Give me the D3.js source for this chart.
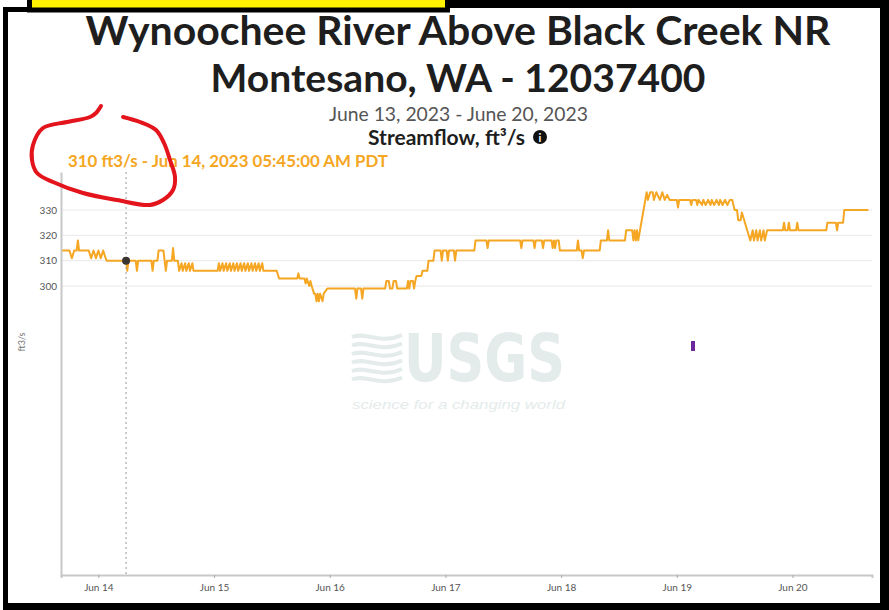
<!DOCTYPE html>
<html>
<head>
<meta charset="utf-8">
<script src="https://cdn.jsdelivr.net/npm/d3@7"></script>
<style>
  body { margin: 0; background: #fff; }
  svg { display: block; }
</style>
</head>
<body>
<svg id="chart" width="889" height="610"></svg>
<script>
// ---- chart text ----
const siteTitle = ["Wynoochee River Above Black Creek NR", "Montesano, WA - 12037400"];
const dateRange = "June 13, 2023 - June 20, 2023";
const parameterName = "Streamflow, ft\u00b3/s";
const yAxisLabel = "ft3/s";

// ---- axes ----
const axisStart = "13 16:15";          // June 2023, day + time
const axisEnd = "20 16:30";
const yDomain = [186, 345];
const yTickValues = [300, 310, 320, 330];
const xTickTimes = ["14 00:00", "15 00:00", "16 00:00", "17 00:00", "18 00:00", "19 00:00", "20 00:00"];
const xTickLabels = ["Jun 14", "Jun 15", "Jun 16", "Jun 17", "Jun 18", "Jun 19", "Jun 20"];

// ---- 15-minute discharge readings, ft3/s (June 2023, day + time) ----
const flowTimes = [
  "13 16:30","13 18:00","13 18:30","13 19:00","13 19:30","13 19:45","13 20:00","13 22:00","13 22:30","13 23:00","13 23:30",
  "14 00:00","14 00:30","14 01:00","14 01:30","14 01:45","14 05:45","14 06:00","14 06:15","14 07:45","14 08:00","14 08:15",
  "14 11:00","14 11:15","14 11:30","14 12:15","14 12:30","14 13:30","14 13:45","14 14:00","14 14:15","14 15:15","14 15:30",
  "14 15:45","14 16:30","14 16:45","14 17:15","14 17:30","14 18:00","14 18:15","14 18:45","14 19:00","14 19:30","14 19:45",
  "15 00:45","15 01:00","15 01:15","15 01:45","15 02:00","15 02:30","15 02:45","15 03:15","15 03:30","15 04:00","15 04:15",
  "15 04:45","15 05:00","15 05:30","15 05:45","15 06:15","15 06:30","15 07:00","15 07:15","15 07:45","15 08:00","15 08:30",
  "15 08:45","15 09:15","15 09:30","15 10:00","15 10:15","15 13:00","15 13:30","15 17:15","15 17:30","15 17:45","15 18:45",
  "15 19:00","15 19:15","15 19:45","15 20:00","15 20:15","15 20:45","15 21:00","15 21:15","15 21:30","15 21:45","15 22:00",
  "15 22:30","15 22:45","15 23:30",
  "16 05:15","16 05:30","16 05:45","16 06:30","16 06:45","16 07:00","16 11:30","16 11:45","16 12:15","16 12:30","16 13:00",
  "16 13:15","16 13:45","16 14:00","16 16:00","16 16:15","16 16:30","16 16:45","16 17:15","16 17:30","16 17:45","16 18:00",
  "16 19:00","16 19:15","16 20:15","16 20:30","16 21:30","16 21:45","16 23:00","16 23:15","16 23:30",
  "17 00:15","17 00:30","17 00:45","17 01:45","17 02:00","17 02:15","17 06:00","17 06:15","17 08:30","17 08:45","17 09:00",
  "17 15:30","17 15:45","17 16:00","17 18:15","17 18:30","17 18:45","17 20:00","17 20:15","17 20:30","17 22:00","17 22:15",
  "17 22:30","17 22:45","17 23:00","17 23:30","17 23:45",
  "18 03:15","18 03:30","18 03:45","18 04:15","18 04:30","18 04:45","18 08:00","18 08:15","18 09:30","18 09:45","18 10:00",
  "18 13:15","18 13:30","18 14:45","18 15:00","18 15:15","18 15:30","18 15:45","18 16:00","18 17:45","18 18:00","18 18:30",
  "18 19:00","18 19:15","18 19:45","18 20:30","18 21:00","18 21:30","18 22:00","18 22:30",
  "19 00:00","19 00:15","19 00:30","19 02:45","19 03:00","19 03:15","19 04:00","19 04:15","19 04:30","19 05:15","19 05:30",
  "19 06:00","19 06:30","19 07:00","19 07:15","19 07:45","19 08:15","19 08:45","19 09:00","19 09:30","19 10:00","19 10:30",
  "19 11:00","19 11:30","19 12:00","19 12:30","19 12:45","19 13:15","19 13:30","19 15:15","19 15:45","19 16:00","19 16:30",
  "19 16:45","19 17:15","19 17:30","19 18:00","19 18:15","19 18:45","19 22:00","19 22:15","19 22:30","19 23:00","19 23:15",
  "19 23:30",
  "20 00:45","20 01:00","20 01:15","20 07:00","20 07:15","20 09:00","20 09:15","20 09:30","20 10:30","20 10:45","20 15:45"
];
const flowValues = [
  314,314,311,314,314,318,314,314,311,314,311,
  314,311,314,311,310,310,306,310,310,306,310,
  310,306,310,310,314,314,310,306,310,310,315,
  310,310,306,309,306,309,306,309,306,309,306,
  306,309,306,309,306,309,306,309,306,309,306,
  309,306,309,306,309,306,309,306,309,306,309,
  306,309,306,309,306,306,303,303,305,303,303,
  301,303,300,302,300,297,297,294,297,294,297,
  294,297,299,
  299,295,299,299,295,299,299,302,302,299,299,
  302,302,299,299,302,299,302,302,299,302,304,
  304,306,306,310,310,314,314,310,314,
  314,310,314,314,310,314,314,318,318,315,318,
  318,315,318,318,315,318,318,315,318,318,315,
  318,315,318,318,314,
  314,318,314,314,311,314,314,318,318,322,318,
  318,322,322,318,322,318,322,318,337,334,337,
  337,334,337,334,337,334,336,334,
  334,331,334,334,332,334,334,332,334,332,334,
  332,334,332,334,332,334,332,334,332,334,332,
  334,334,330,330,326,326,329,318,322,318,322,
  318,322,318,322,318,322,322,325,322,322,325,
  322,
  322,325,322,322,325,325,322,325,325,330,330
];

// ---- hovered reading ----
const cursorTime = "14 05:45";
const cursorValue = 310;
const cursorLabel = "310 ft3/s - Jun 14, 2023 05:45:00 AM PDT";

// ---- drawing ----
const svg = d3.select("#chart");
const plot = { left: 61, right: 872, top: 172, bottom: 575 };
const parseTime = d3.utcParse("%Y-%m-%d %H:%M");
const toDate = s => parseTime("2023-06-" + s);

const x = d3.scaleUtc().domain([toDate(axisStart), toDate(axisEnd)]).range([plot.left, plot.right]);
const y = d3.scaleLinear().domain(yDomain).range([plot.bottom, plot.top]);

const uiFont = "'Lato', 'Open Sans', sans-serif";

function fitWidth(sel, target) {
  const w = sel.node().getComputedTextLength();
  const fs = parseFloat(sel.attr("font-size"));
  sel.attr("font-size", (fs * target / w).toFixed(2));
}

svg.append("rect").attr("width", 889).attr("height", 610).attr("fill", "#fff");

// watermark
const wm = svg.append("g").attr("fill", "#e4ebeb").attr("stroke", "none");
const waves = wm.append("g").attr("fill", "none").attr("stroke", "#e4ebeb").attr("stroke-width", 4);
[0, 1, 2, 3, 4, 5].forEach(i => {
  const yy = 337 + i * 8.5;
  waves.append("path").attr("d",
    `M352,${yy} C366,${yy - 6} 380,${yy + 8} 402,${yy - 2}`);
});
// tall condensed letters: drawn at a smaller size and stretched vertically
wm.append("text")
  .attr("transform", "translate(404,381) scale(1,1.3)")
  .attr("font-family", "'Liberation Sans Narrow', 'DejaVu Sans Condensed', sans-serif")
  .attr("font-weight", "bold").attr("font-size", 50)
  .attr("textLength", 161).attr("lengthAdjust", "spacingAndGlyphs")
  .text("USGS");
wm.append("text")
  .attr("x", 352).attr("y", 409)
  .attr("font-family", "'Liberation Sans', sans-serif").attr("font-style", "italic").attr("font-size", 13.5)
  .attr("textLength", 213).attr("lengthAdjust", "spacingAndGlyphs")
  .text("science for a changing world");

// gridlines
svg.append("g").selectAll("line").data(yTickValues).join("line")
  .attr("x1", plot.left).attr("x2", plot.right)
  .attr("y1", d => y(d)).attr("y2", d => y(d))
  .attr("stroke", "#e8e8e8").attr("stroke-width", 1);

// y axis
const yAxis = svg.append("g")
  .attr("transform", `translate(${plot.left},0)`)
  .call(d3.axisLeft(y).tickValues(yTickValues).tickSize(0).tickPadding(4));
yAxis.select(".domain").attr("stroke", "#c8c8c8").attr("stroke-width", 2);
yAxis.selectAll("text").attr("font-family", uiFont).attr("font-size", 10).attr("fill", "#555");

svg.append("text")
  .attr("transform", "translate(25,342) rotate(-90)")
  .attr("text-anchor", "middle")
  .attr("font-family", uiFont).attr("font-size", 9).attr("fill", "#777")
  .text(yAxisLabel);

// x axis
const xTicks = xTickTimes.map(toDate);
const xAxis = svg.append("g")
  .attr("transform", `translate(0,${plot.bottom})`)
  .call(d3.axisBottom(x).tickValues(xTicks).tickSize(3).tickPadding(6)
    .tickFormat((d, i) => xTickLabels[i]));
xAxis.select(".domain").attr("stroke", "#c8c8c8").attr("stroke-width", 2);
xAxis.selectAll(".tick line").attr("stroke", "#aaa");
xAxis.selectAll("text").attr("font-family", uiFont).attr("font-size", 10).attr("fill", "#555");

// discharge line
const flow = flowTimes.map((t, i) => ({ t: toDate(t), v: flowValues[i] }));
svg.append("path")
  .datum(flow)
  .attr("fill", "none")
  .attr("stroke", "#f5a623")
  .attr("stroke-width", 2)
  .attr("stroke-linejoin", "round")
  .attr("d", d3.line().x(d => x(d.t)).y(d => y(d.v)));

// cursor
const cx = x(toDate(cursorTime));
svg.append("line")
  .attr("x1", cx).attr("x2", cx).attr("y1", plot.top).attr("y2", plot.bottom)
  .attr("stroke", "#999").attr("stroke-width", 1).attr("stroke-dasharray", "2,3");
svg.append("circle")
  .attr("cx", cx).attr("cy", y(cursorValue)).attr("r", 4)
  .attr("fill", "#3a3530");
const cl = svg.append("text")
  .attr("x", 68).attr("y", 167)
  .attr("font-family", uiFont).attr("font-weight", "bold").attr("font-size", 14)
  .attr("fill", "#f5a623")
  .text(cursorLabel);
fitWidth(cl, 320);

// stray purple marker
svg.append("rect").attr("x", 691).attr("y", 341).attr("width", 4).attr("height", 10)
  .attr("fill", "#6b2a9c");

// titles
const t1 = svg.append("text").attr("x", 458).attr("y", 45).attr("text-anchor", "middle")
  .attr("font-family", uiFont).attr("font-weight", "bold").attr("font-size", 36)
  .attr("fill", "#1e1e1e").text(siteTitle[0]);
fitWidth(t1, 745);
const t2 = svg.append("text").attr("x", 458).attr("y", 92).attr("text-anchor", "middle")
  .attr("font-family", uiFont).attr("font-weight", "bold").attr("font-size", 36)
  .attr("fill", "#1e1e1e").text(siteTitle[1]);
fitWidth(t2, 495);
const st = svg.append("text").attr("x", 458.5).attr("y", 121).attr("text-anchor", "middle")
  .attr("font-family", uiFont).attr("font-size", 17).attr("fill", "#555")
  .text(dateRange);
fitWidth(st, 259);
const pn = svg.append("text").attr("x", 368).attr("y", 145)
  .attr("font-family", uiFont).attr("font-weight", "bold").attr("font-size", 16)
  .attr("fill", "#1e1e1e").text(parameterName);
fitWidth(pn, 157);
svg.append("circle").attr("cx", 540).attr("cy", 137).attr("r", 7).attr("fill", "#111");
svg.append("text").attr("x", 540).attr("y", 141.5).attr("text-anchor", "middle")
  .attr("font-family", uiFont).attr("font-weight", "bold").attr("font-size", 11)
  .attr("fill", "#fff").text("i");

// hand-drawn red loop around the cursor label
const loop = [[123,117],[140,122],[156,130],[164,143],[170,160],[175,177],[173,190],[163,200],
  [150,205],[117,200],[83,193],[53,182],[37,173],[32,160],[33,145],[43,128],[67,122],[90,117],
  [96,113],[101,106]];
svg.append("path")
  .attr("d", d3.line().curve(d3.curveCatmullRom)(loop))
  .attr("fill", "none").attr("stroke", "#e3141c").attr("stroke-width", 4)
  .attr("stroke-linecap", "round").attr("stroke-linejoin", "round");

// frame and yellow tab
const frame = svg.append("g").attr("fill", "#000");
frame.append("rect").attr("x", 3).attr("y", 7).attr("width", 30).attr("height", 5);
frame.append("rect").attr("x", 440).attr("y", 0).attr("width", 449).attr("height", 8);
frame.append("rect").attr("x", 3).attr("y", 7).attr("width", 5).attr("height", 603);
frame.append("rect").attr("x", 880).attr("y", 0).attr("width", 9).attr("height", 610);
frame.append("rect").attr("x", 3).attr("y", 603).attr("width", 886).attr("height", 7);
svg.append("rect").attr("x", 29.5).attr("y", -3).attr("width", 418).attr("height", 13)
  .attr("fill", "#fff200").attr("stroke", "#000").attr("stroke-width", 5);
</script>
</body>
</html>
